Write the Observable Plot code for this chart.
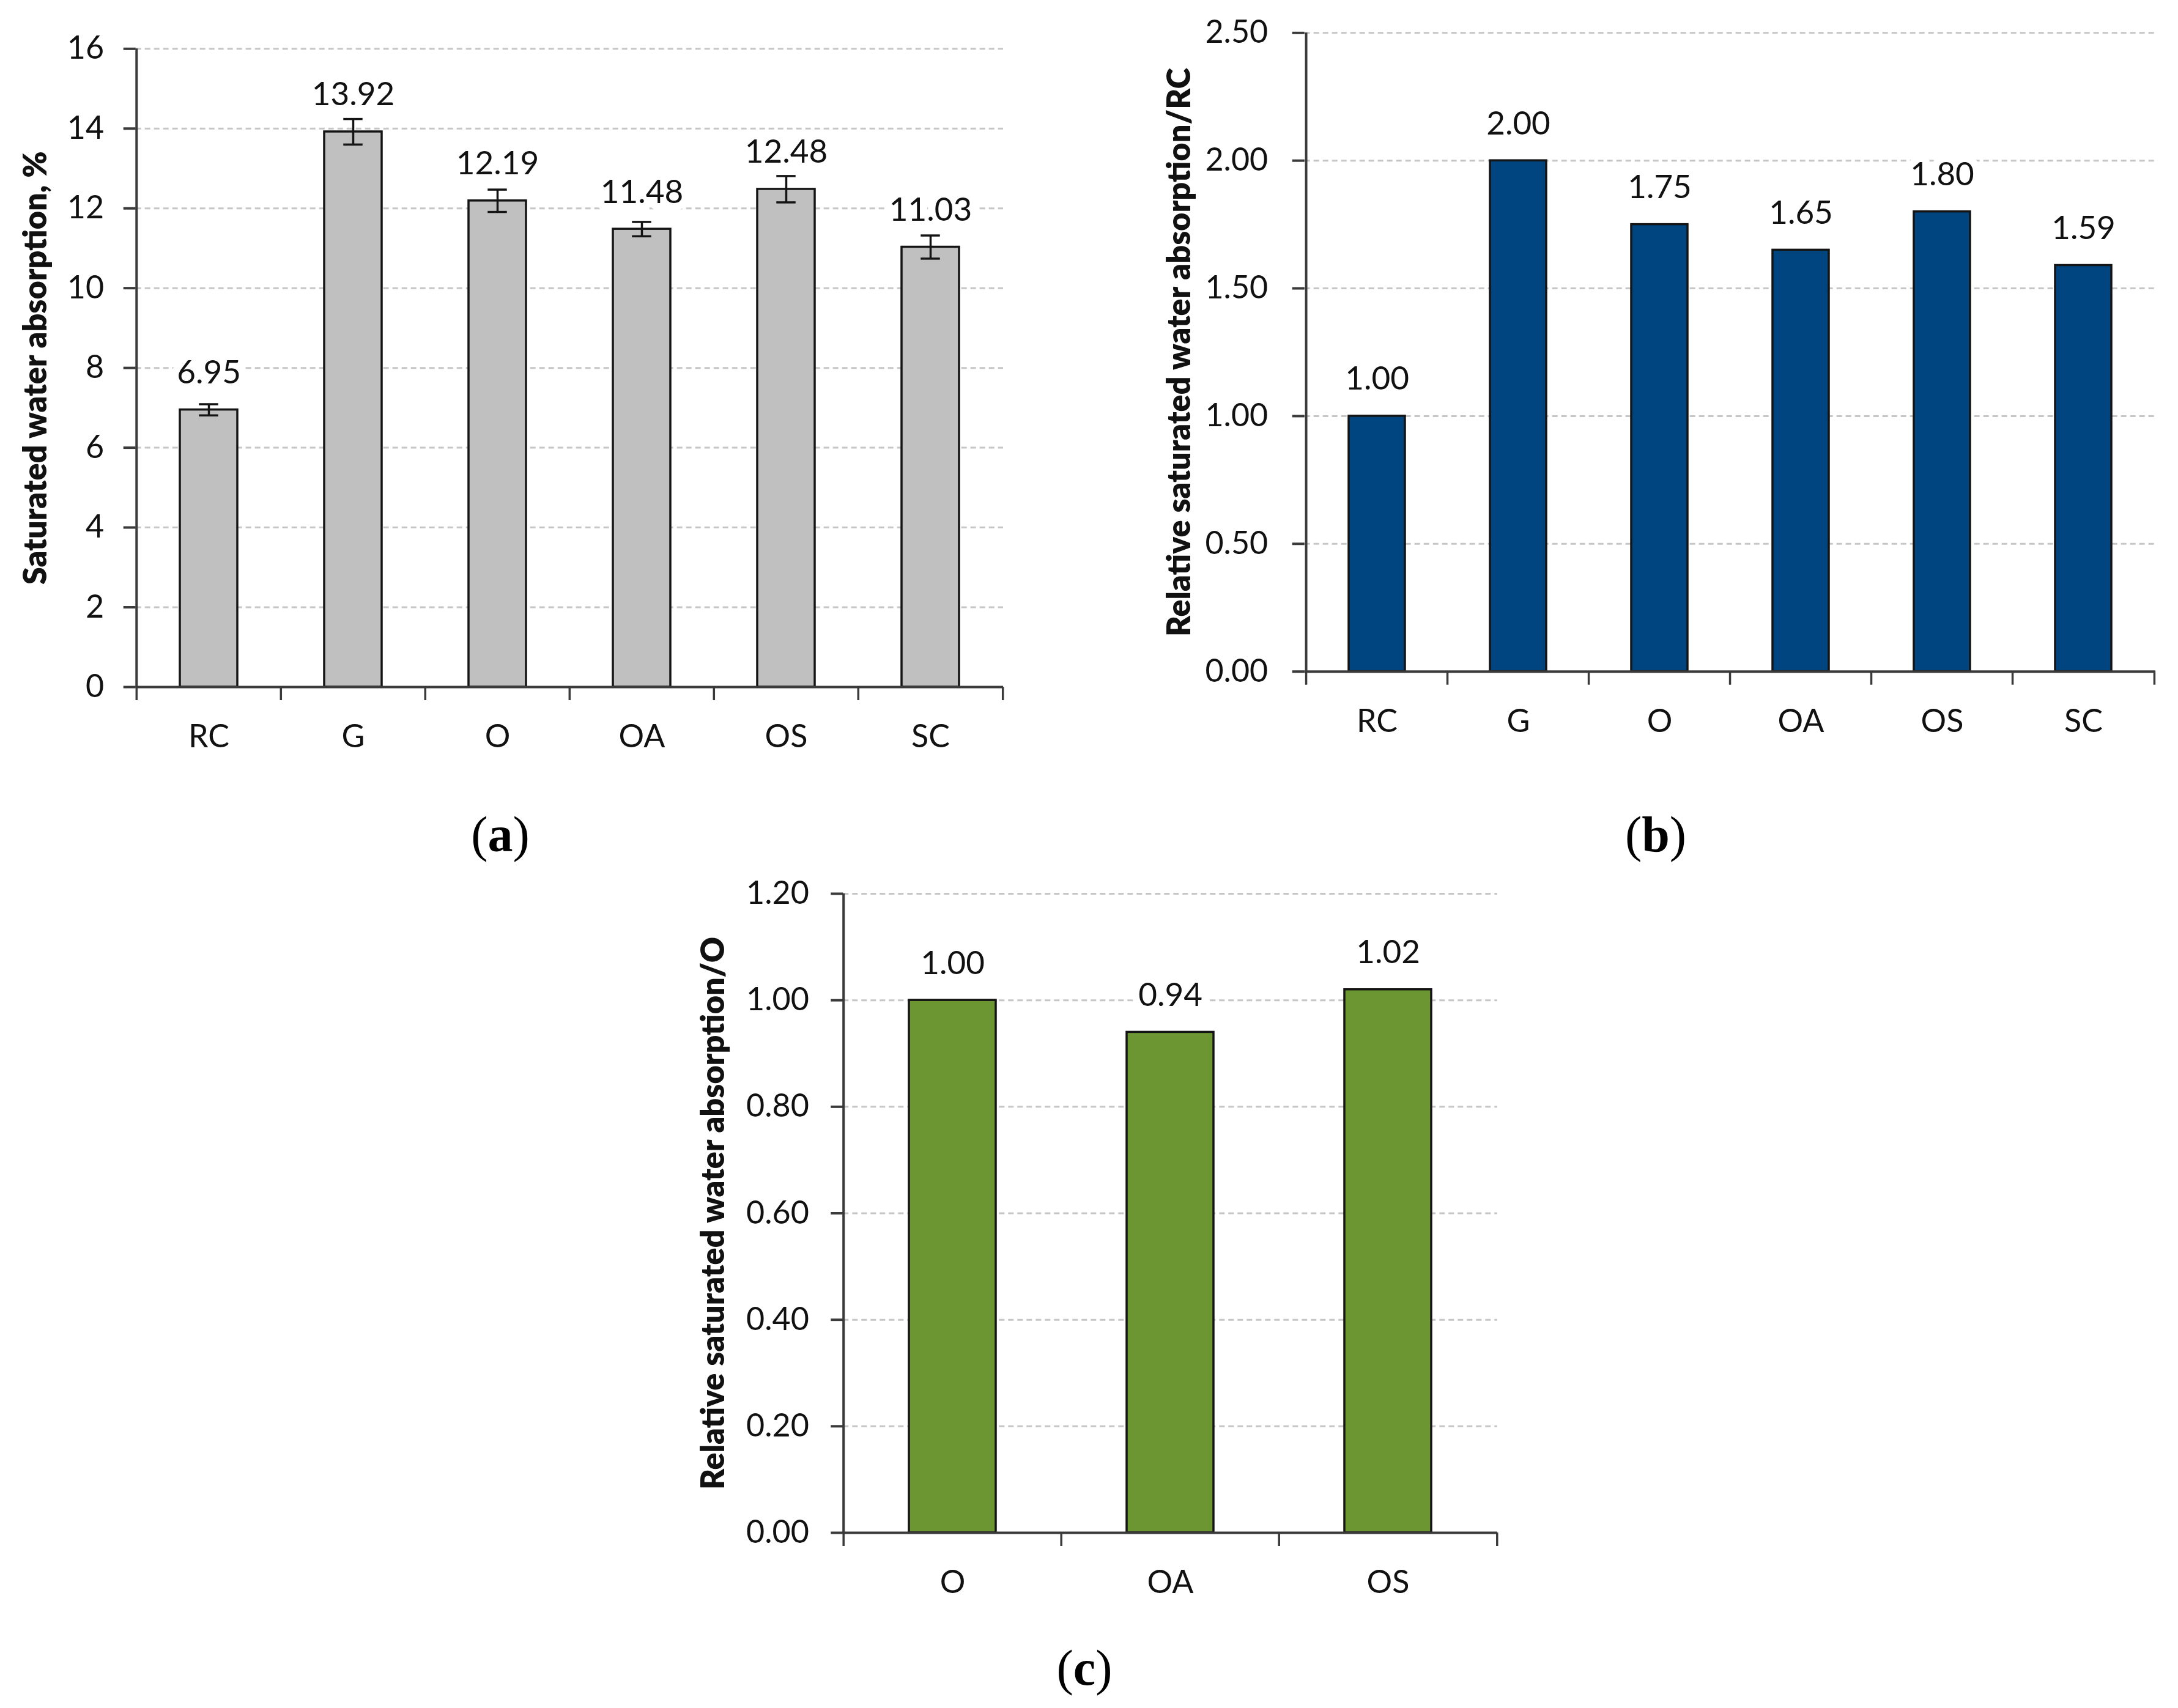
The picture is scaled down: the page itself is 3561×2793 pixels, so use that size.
<!DOCTYPE html>
<html>
<head>
<meta charset="utf-8">
<script src="https://cdn.jsdelivr.net/npm/d3@7"></script>
<script src="https://cdn.jsdelivr.net/npm/@observablehq/plot@0.6"></script>
<style>
  html, body { margin: 0; padding: 0; background: #fff; }
  #page { position: relative; width: 3561px; height: 2793px; background: #fff; overflow: hidden; }
  .panel { position: absolute; }
  .caption {
    position: absolute; transform: translate(-50%, -50%);
    font-family: "Liberation Serif", "DejaVu Serif", serif; font-size: 82px; line-height: 1;
    color: #000; white-space: nowrap;
  }
  .caption b { font-weight: bold; }
</style>
</head>
<body>
<div id="page"></div>
<script>
// (a) saturated water absorption, % (mean ± error)
const categoriesA = ["RC", "G", "O", "OA", "OS", "SC"];
const absorptionA = [6.95, 13.92, 12.19, 11.48, 12.48, 11.03];
const errorA = [0.14, 0.32, 0.28, 0.18, 0.33, 0.29];
const ticksA = [0, 2, 4, 6, 8, 10, 12, 14, 16];

// (b) relative to RC
const categoriesB = ["RC", "G", "O", "OA", "OS", "SC"];
const relativeB = [1.00, 2.00, 1.75, 1.65, 1.80, 1.59];
const ticksB = [0, 0.5, 1.0, 1.5, 2.0, 2.5];

// (c) relative to O
const categoriesC = ["O", "OA", "OS"];
const relativeC = [1.00, 0.94, 1.02];
const ticksC = [0, 0.2, 0.4, 0.6, 0.8, 1.0, 1.2];

const axisColor = "#3a3a3a";
const outline = "#141414";

function barPanel(o) {
  const data = o.categories.map((c, i) => ({
    category: c,
    value: o.values[i],
    error: o.errors ? o.errors[i] : null
  }));
  const n = o.categories.length;
  const step = (o.width - o.marginLeft - o.marginRight) / n;
  const bandwidth = step * 0.4;
  const capInset = (bandwidth - 32) / 2;
  const top = o.ticks[o.ticks.length - 1];

  const marks = [
    // dashed horizontal grid
    Plot.ruleY(o.ticks.filter(t => t > 0), {
      stroke: "#c6c6c6", strokeWidth: 3, strokeDasharray: "9,6"
    }),
    Plot.barY(data, {
      x: "category", y: "value", fill: o.fill, stroke: outline, strokeWidth: 3.5
    })
  ];

  if (o.errors) {
    marks.push(
      Plot.ruleX(data, {
        x: "category", y1: d => d.value - d.error, y2: d => d.value + d.error,
        stroke: outline, strokeWidth: 3.5
      }),
      Plot.tickY(data, {
        x: "category", y: d => d.value + d.error,
        insetLeft: capInset, insetRight: capInset, stroke: outline, strokeWidth: 3.5
      }),
      Plot.tickY(data, {
        x: "category", y: d => d.value - d.error,
        insetLeft: capInset, insetRight: capInset, stroke: outline, strokeWidth: 3.5
      })
    );
  }

  marks.push(
    // axis lines
    Plot.ruleY([0], {stroke: axisColor, strokeWidth: 4}),
    Plot.ruleX([o.categories[0]], {
      x: d => d, y1: 0, y2: top, dx: -step / 2, stroke: axisColor, strokeWidth: 4
    }),
    // y ticks and labels
    Plot.axisY({
      ticks: o.ticks, tickFormat: o.tickFormat, tickSize: 20, tickPadding: o.tickPadding,
      stroke: axisColor, strokeWidth: 4, fill: "#111", fontSize: 52, label: null
    }),
    // x ticks between categories
    Plot.axisX({
      tickSize: 22, fill: "none", stroke: axisColor, strokeWidth: 3.5, dx: -step / 2, label: null
    }),
    Plot.axisX({
      ticks: [o.categories[n - 1]], tickSize: 22, fill: "none", stroke: axisColor,
      strokeWidth: 3.5, dx: step / 2, label: null
    }),
    // category labels
    Plot.axisX({tickSize: 0, tickPadding: 62, fill: "#111", fontSize: 52, label: null}),
    // value labels
    Plot.text(data, {
      x: "category", y: "value", text: d => d3.format(".2f")(d.value),
      dy: -60, lineAnchor: "middle", fontSize: 53, fill: "#111",
      stroke: "white", strokeWidth: 24
    }),
    // y axis title
    Plot.text([o.title], {
      text: d => d, frameAnchor: "left", rotate: -90, dx: o.titleDx,
      textAnchor: "middle", lineAnchor: "middle",
      fontSize: 52, fontWeight: 800, fill: "#111"
    })
  );

  return Plot.plot({
    width: o.width,
    height: o.height,
    marginLeft: o.marginLeft,
    marginRight: o.marginRight,
    marginTop: o.marginTop,
    marginBottom: o.marginBottom,
    style: {fontFamily: "Lato, 'Open Sans', sans-serif", fontSize: "52px", color: "#111", background: "transparent"},
    x: {domain: o.categories, paddingInner: 0.6, paddingOuter: 0.3, align: 0.5, axis: null},
    y: {domain: [0, top], axis: null},
    marks
  });
}

function place(node, left, top) {
  const div = document.createElement("div");
  div.className = "panel";
  div.style.left = left + "px";
  div.style.top = top + "px";
  div.appendChild(node);
  document.getElementById("page").appendChild(div);
}

function caption(letter, cx, cy) {
  const div = document.createElement("div");
  div.className = "caption";
  div.style.left = cx + "px";
  div.style.top = cy + "px";
  div.innerHTML = "(<b>" + letter + "</b>)";
  document.getElementById("page").appendChild(div);
}

place(barPanel({
  categories: categoriesA, values: absorptionA, errors: errorA, ticks: ticksA,
  tickFormat: d3.format("d"), fill: "#c0c0c0",
  title: "Saturated water absorption, %",
  width: 1660, height: 1253, marginLeft: 221.7, marginRight: 20, marginTop: 79.3, marginBottom: 130,
  titleDx: -163, tickPadding: 32
}), 0, 0);

place(barPanel({
  categories: categoriesB, values: relativeB, errors: null, ticks: ticksB,
  tickFormat: d3.format(".2f"), fill: "#00457f",
  title: "Relative saturated water absorption/RC",
  width: 1744, height: 1227.7, marginLeft: 332.7, marginRight: 20, marginTop: 53.3, marginBottom: 130,
  titleDx: -204, tickPadding: 40
}), 1800, 0);

place(barPanel({
  categories: categoriesC, values: relativeC, errors: null, ticks: ticksC,
  tickFormat: d3.format(".2f"), fill: "#6b9632",
  title: "Relative saturated water absorption/O",
  width: 1368, height: 1236, marginLeft: 278.3, marginRight: 20, marginTop: 61, marginBottom: 130,
  titleDx: -211, tickPadding: 36
}), 1100, 1400);

caption("a", 818, 1365);
caption("b", 2707, 1365);
caption("c", 1773, 2728);
</script>
</body>
</html>
